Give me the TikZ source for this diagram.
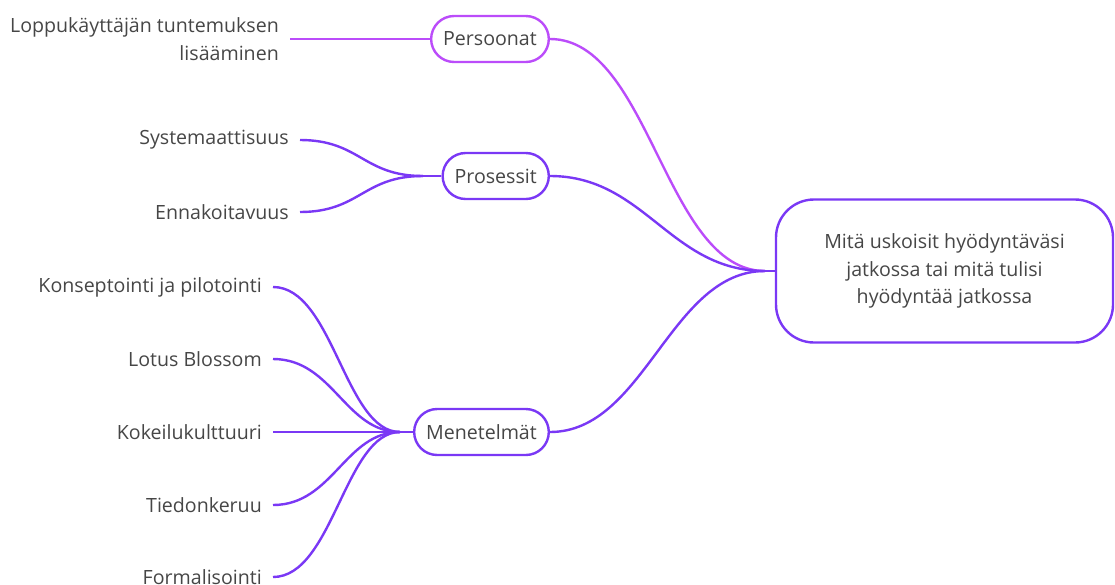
\documentclass[tikz,border=0pt]{standalone}
\usepackage{fontspec}
\setmainfont{Open Sans}
\definecolor{magentaline}{RGB}{187,76,250}
\definecolor{violetline}{RGB}{122,56,245}
\definecolor{txt}{RGB}{70,70,70}
\begin{document}
\begin{tikzpicture}[x=1pt,y=-1pt,
  every node/.style={text=txt, font=\fontsize{19.6}{27.5}\selectfont},
  pill/.style={draw, line width=2.4pt, rounded corners=23pt, minimum height=46pt,
               inner xsep=12pt, fill=white, anchor=east},
  leaf/.style={anchor=east, inner sep=0pt, align=right},
  link/.style={line width=2.4pt}
]
\useasboundingbox (0,0) rectangle (1115,584);
\clip (0,0) rectangle (1115,584);

% central question
\node[draw=violetline, line width=2.4pt, rounded corners=38pt,
      minimum width=337pt, minimum height=143pt, align=center]
  (root) at (944.5,271) {Mitä uskoisit hyödyntäväsi\\jatkossa tai mitä tulisi\\hyödyntää jatkossa};

% branch topics
\node[pill, draw=magentaline] (per) at (550,39)  {Persoonat};
\node[pill, draw=violetline]  (pro) at (550,176) {Prosessit};
\node[pill, draw=violetline]  (men) at (550,432) {Menetelmät};

% junction points where branches meet
\coordinate (jr) at (765,271);
\coordinate (jp) at (423,176);
\coordinate (jm) at (400,432);

% leaves
\node[leaf] (lop) at (279,39) {Loppukäyttäjän tuntemuksen\\lisääminen};
\node[leaf] (sys) at (289,140) {Systemaattisuus};
\node[leaf] (enn) at (289,212) {Ennakoitavuus};
\node[leaf] (kon) at (262,287) {Konseptointi ja pilotointi};
\node[leaf] (lot) at (262,359) {Lotus Blossom};
\node[leaf] (kok) at (262,432) {Kokeilukulttuuri};
\node[leaf] (tie) at (262,505) {Tiedonkeruu};
\node[leaf] (for) at (262,577) {Formalisointi};

% branches to the central question
\draw[link, magentaline] (per.east) .. controls +(100,0) and +(-100,0) .. (jr);
\draw[link, violetline] (pro.east) .. controls +(95,0) and +(-95,0) .. (jr);
\draw[link, violetline] (men.east) .. controls +(95,0) and +(-95,0) .. (jr);
\draw[link, violetline] (jr) -- (root.west);

% leaves to branches
\draw[link, magentaline] ([xshift=11pt]lop.east) -- (per.west);

\draw[link, violetline] ([xshift=11pt]sys.east) .. controls +(60,0) and +(-60,0) .. (jp);
\draw[link, violetline] ([xshift=11pt]enn.east) .. controls +(60,0) and +(-60,0) .. (jp);
\draw[link, violetline] (jp) -- (pro.west);

\draw[link, violetline] ([xshift=11pt]kon.east) .. controls +(60,0) and +(-55,0) .. (jm);
\draw[link, violetline] ([xshift=11pt]lot.east) .. controls +(60,0) and +(-55,0) .. (jm);
\draw[link, violetline] ([xshift=11pt]kok.east) -- (jm);
\draw[link, violetline] ([xshift=11pt]tie.east) .. controls +(60,0) and +(-55,0) .. (jm);
\draw[link, violetline] ([xshift=11pt]for.east) .. controls +(60,0) and +(-55,0) .. (jm);
\draw[link, violetline] (jm) -- (men.west);
\end{tikzpicture}
\end{document}
